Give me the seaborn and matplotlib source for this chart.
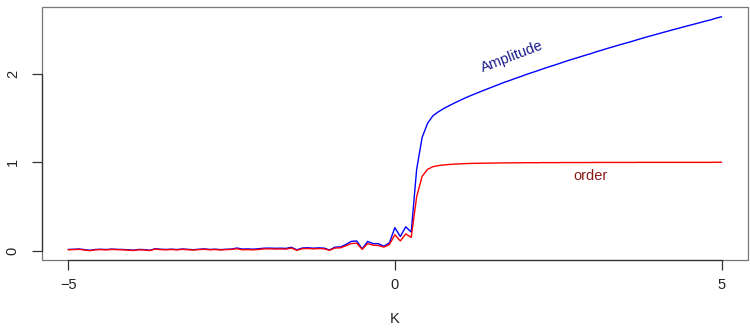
import numpy as np
import pandas as pd
import matplotlib
matplotlib.use("Agg")
import matplotlib.pyplot as plt
from matplotlib.patches import Rectangle
import seaborn as sns

# ==========================
# Data
# ==========================

coupling = np.linspace(-5, 5, 121)

order = [
    0.010, 0.012, 0.015, 0.008, 0.000, 0.010, 0.012, 0.009, 0.014, 0.011,
    0.010, 0.006, 0.002, 0.010, 0.008, 0.001, 0.018, 0.012, 0.010, 0.013,
    0.009, 0.015, 0.011, 0.007, 0.012, 0.016, 0.010, 0.013, 0.008, 0.012,
    0.014, 0.022, 0.010, 0.012, 0.009, 0.014, 0.020, 0.021, 0.019, 0.020,
    0.018, 0.030, 0.004, 0.022, 0.025, 0.020, 0.024, 0.021, 0.004, 0.030,
    0.032, 0.055, 0.080, 0.085, 0.015, 0.080, 0.062, 0.058, 0.040, 0.070,
    0.180, 0.110, 0.190, 0.150, 0.610, 0.840, 0.920, 0.950, 0.962, 0.970,
    0.975, 0.979, 0.982, 0.985, 0.987, 0.988, 0.989, 0.990, 0.991, 0.992,
    0.993, 0.993, 0.994, 0.994, 0.995, 0.995, 0.995, 0.996, 0.996, 0.996,
    0.996, 0.997, 0.997, 0.997, 0.997, 0.997, 0.997, 0.998, 0.998, 0.998,
    0.998, 0.998, 0.998, 0.998, 0.998, 0.999, 0.999, 0.999, 0.999, 0.999,
    0.999, 0.999, 0.999, 0.999, 0.999, 0.999, 0.999, 0.999, 0.999, 1.000,
    1.000,
]

amplitude = [
    0.014, 0.016, 0.019, 0.012, 0.004, 0.014, 0.016, 0.013, 0.018, 0.015,
    0.014, 0.010, 0.006, 0.014, 0.012, 0.005, 0.022, 0.016, 0.014, 0.017,
    0.013, 0.019, 0.015, 0.011, 0.016, 0.020, 0.014, 0.017, 0.012, 0.016,
    0.018, 0.030, 0.018, 0.020, 0.017, 0.022, 0.028, 0.029, 0.027, 0.028,
    0.026, 0.038, 0.010, 0.030, 0.033, 0.028, 0.032, 0.029, 0.008, 0.040,
    0.042, 0.070, 0.105, 0.110, 0.020, 0.105, 0.080, 0.078, 0.050, 0.090,
    0.260, 0.160, 0.270, 0.210, 0.920, 1.280, 1.440, 1.527, 1.571, 1.609,
    1.641, 1.672, 1.701, 1.730, 1.756, 1.781, 1.806, 1.830, 1.854, 1.878,
    1.902, 1.923, 1.946, 1.967, 1.990, 2.011, 2.031, 2.053, 2.073, 2.093,
    2.113, 2.134, 2.154, 2.173, 2.192, 2.211, 2.229, 2.250, 2.268, 2.287,
    2.305, 2.323, 2.341, 2.358, 2.376, 2.395, 2.413, 2.430, 2.447, 2.464,
    2.481, 2.498, 2.514, 2.531, 2.547, 2.563, 2.579, 2.596, 2.611, 2.630,
    2.646,
]

x_ticks = [-5, 0, 5]
y_ticks = [0, 1, 2]

df = pd.DataFrame({"K": coupling, "order": order, "amplitude": amplitude})

# ==========================
# Plot
# ==========================

sns.set_style("white")
plt.rcParams["font.family"] = ["Liberation Sans", "DejaVu Sans"]

fig = plt.figure(figsize=(7.5, 3.3), dpi=100)
ax = fig.add_axes([0.056, 0.212, 0.941, 0.767])

sns.lineplot(data=df, x="K", y="amplitude", color="#0000ff", lw=1, ax=ax)
sns.lineplot(data=df, x="K", y="order", color="#ff0000", lw=1, ax=ax)

ax.set_xlim(-5.4, 5.4)
ax.set_ylim(-0.106, 2.757)

# R style box + axis segments
for s in ax.spines.values():
    s.set_visible(False)
ax.add_patch(Rectangle((0, 0), 1, 1, transform=ax.transAxes, fill=False,
                       ec="#777777", lw=0.9, clip_on=False, zorder=5))
ax.spines["bottom"].set_visible(True)
ax.spines["left"].set_visible(True)
ax.spines["bottom"].set_bounds(-5, 5)
ax.spines["left"].set_bounds(0, 2)
for s in ["bottom", "left"]:
    ax.spines[s].set_color("#333333")
    ax.spines[s].set_linewidth(0.9)
    ax.spines[s].set_zorder(6)

ax.set_xticks(x_ticks)
ax.set_xticklabels(["\u22125", "0", "5"])
ax.set_yticks(y_ticks)
ax.set_yticklabels([str(v) for v in y_ticks], rotation=90, va="center")
ax.tick_params(axis="both", which="major", bottom=True, left=True,
               direction="out", length=7, width=0.9,
               color="#333333", labelsize=10.5, labelcolor="#222222")
ax.tick_params(axis="x", pad=6)
ax.tick_params(axis="y", pad=9)

ax.set_xlabel("K", fontsize=10.5, color="#222222", labelpad=14)
ax.set_ylabel("")

ax.text(1.79, 2.19, "Amplitude", color="#1a1a8c", fontsize=10.5,
        rotation=21, ha="center", va="center")
ax.text(3.0, 0.84, "order", color="#8b1a1a", fontsize=10.5,
        ha="center", va="center")

plt.savefig("out.png", dpi=100)
